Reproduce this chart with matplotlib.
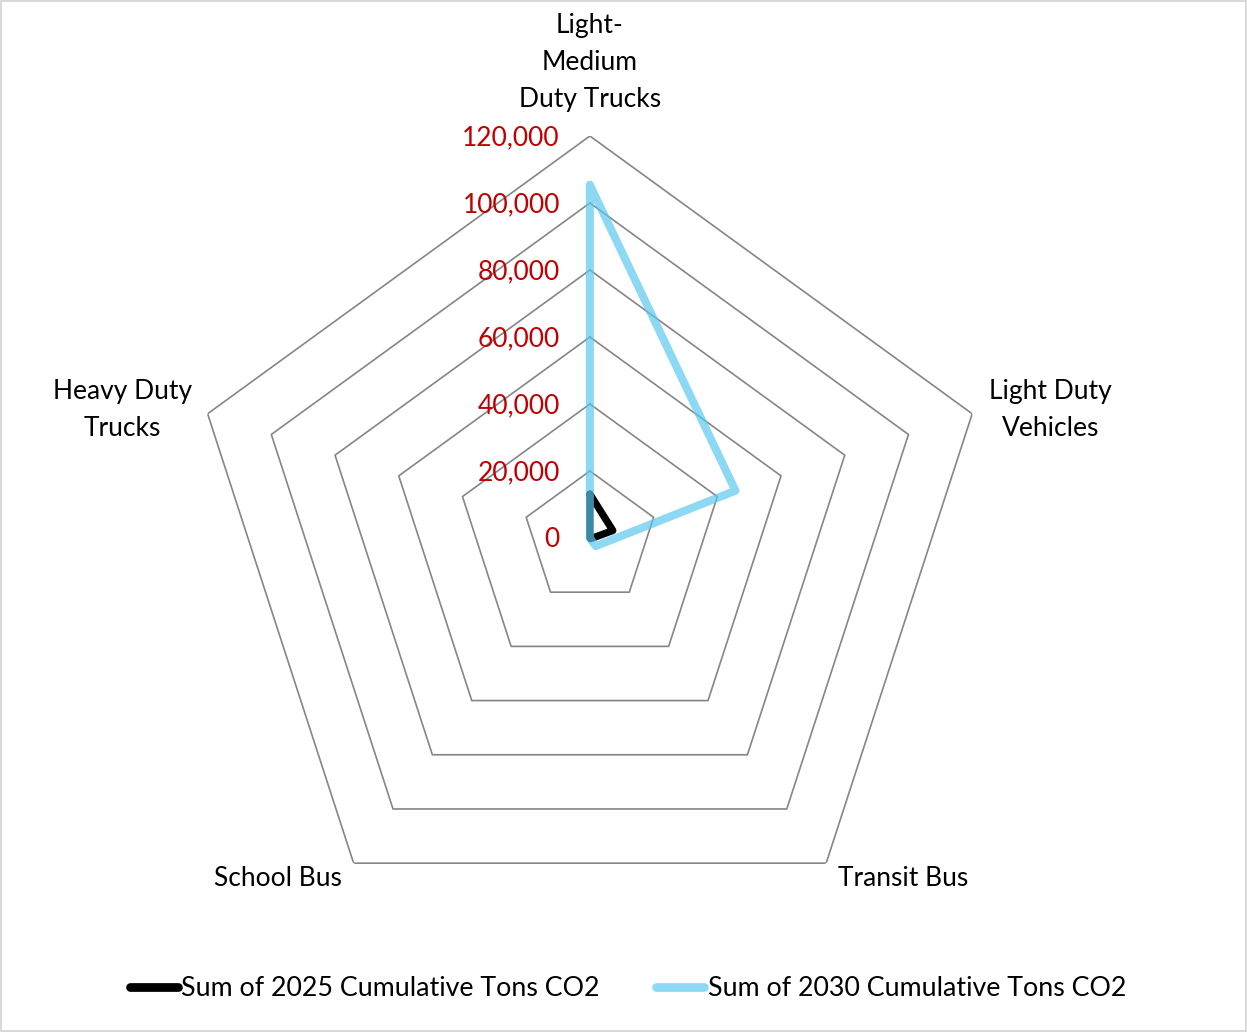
import numpy as np
import matplotlib.pyplot as plt
from matplotlib.patches import Rectangle

categories = ['Light-\nMedium\nDuty Trucks', 'Light Duty\nVehicles', 'Transit Bus',
              'School Bus', 'Heavy Duty\nTrucks']
tons_2025 = [13100, 7200, 300, 0, 0]
tons_2030 = [105400, 45700, 3000, 0, 0]
r_ticks = [0, 20000, 40000, 60000, 80000, 100000, 120000]

# label offsets from the outer ring vertex, in pixels
label_offsets = [(0, 74), (78, 4), (77, -15), (-76, -15), (-85, 4)]

plt.rcParams['font.family'] = ['Lato', 'DejaVu Sans']

fig = plt.figure(figsize=(12.47, 10.32), dpi=100)
fig.patches.append(Rectangle((0.0008, 0.001), 0.9984, 0.998, transform=fig.transFigure,
                             fill=False, edgecolor='#D9D9D9', linewidth=1.5))

ax = fig.add_axes([0.1507, 0.0892, 0.6447, 0.779], projection='polar')
ax.set_theta_zero_location('N')
ax.set_theta_direction(-1)
ax.set_ylim(0, 120000)
ax.grid(False)
ax.spines['polar'].set_visible(False)
ax.set_xticks([])
ax.set_yticks([])
ax.patch.set_alpha(0)

theta = np.linspace(0, 2 * np.pi, len(categories), endpoint=False)
theta_c = np.append(theta, theta[0])

# pentagon rings
for r in r_ticks[1:]:
    ax.plot(theta_c, [r] * len(theta_c), color='#868686', lw=1.2, zorder=1)

for r in r_ticks:
    ax.annotate(f'{r:,}', xy=(0, r), xytext=(-30, -2), textcoords='offset pixels',
                ha='right', va='center', color='#C00000', fontsize=19, zorder=5)

for t, name, (dx, dy) in zip(theta, categories, label_offsets):
    ax.annotate(name, xy=(t, 120000), xytext=(dx, dy), textcoords='offset pixels',
                ha='center', va='center', fontsize=19, linespacing=1.6,
                annotation_clip=False)

v25 = tons_2025 + tons_2025[:1]
v30 = tons_2030 + tons_2030[:1]
ax.plot(theta_c, v25, color='black', lw=5.2, solid_capstyle='round',
        solid_joinstyle='round', zorder=3, label='Sum of 2025 Cumulative Tons CO2')
ax.plot(theta_c, v30, color='#5AC8F0', alpha=0.69, lw=5.8, solid_capstyle='round',
        solid_joinstyle='round', zorder=4, label='Sum of 2030 Cumulative Tons CO2')

leg = fig.legend(loc='center', bbox_to_anchor=(0.5036, 0.042), ncol=2, frameon=False,
                 fontsize=19.3, handlelength=1.8, handletextpad=0.12, columnspacing=2.1)
for h in leg.get_lines():
    h.set_alpha(1)
    h.set_linewidth(6.3)
    h.set_solid_capstyle('round')
leg.get_lines()[1].set_color('#8ED9F6')

fig.savefig('out.png', dpi=100)
